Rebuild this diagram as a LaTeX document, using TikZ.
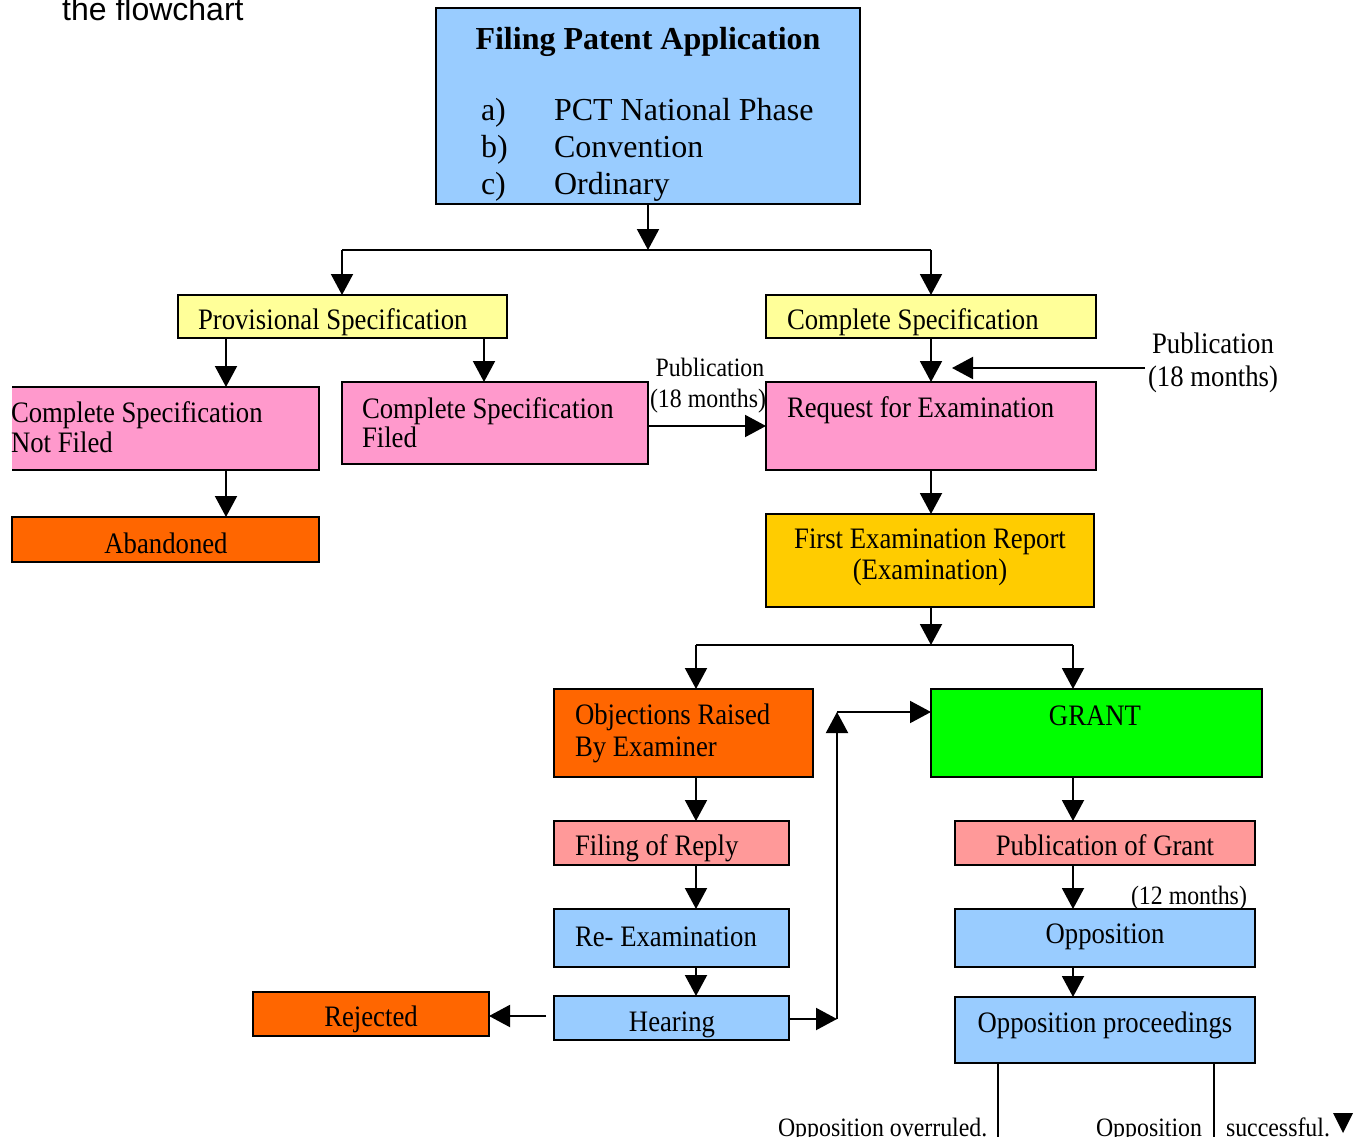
\documentclass[tikz,border=0pt]{standalone}
\usepackage{fontspec}
\setmainfont{Liberation Serif}
\newfontfamily\nserif[FakeStretch=0.9]{Liberation Serif}
\newfontfamily\arialish{Liberation Sans}
\usetikzlibrary{arrows.meta,fit}
\definecolor{cblue}{HTML}{99CCFF}
\definecolor{cyellow}{HTML}{FFFF99}
\definecolor{cpink}{HTML}{FF99CC}
\definecolor{corange}{HTML}{FF6600}
\definecolor{cgold}{HTML}{FFCC00}
\definecolor{cgreen}{HTML}{00FF00}
\definecolor{csalmon}{HTML}{FF9999}
\begin{document}
\begin{tikzpicture}[x=1pt,y=-1pt,
 boxst/.style={draw=black, line width=2pt, inner sep=0pt, outer sep=0pt, rectangle},
 ln/.style={line width=2pt},
 arr/.style={line width=2pt, -{Triangle[length=21pt,width=22pt]}},
 txt/.style={inner sep=0pt, outer sep=0pt, font=\nserif\fontsize{29.7}{33}\selectfont},
 small/.style={inner sep=0pt, outer sep=0pt, font=\nserif\fontsize{26.5}{30}\selectfont},
 list/.style={inner sep=0pt, outer sep=0pt, font=\fontsize{32}{36}\selectfont},
]
\useasboundingbox (0,0) rectangle (1369,1137);
\fill[white] (0,0) rectangle (1369,1137);

\node[inner sep=0pt, anchor=base west, font=\arialish\fontsize{32}{36}\selectfont] (hdr) at (62,21) {the flowchart};

% title
\node[boxst, fill=cblue, fit={(436,8) (860,204)}] (title) {};
\node[inner sep=0pt, anchor=base, font=\bfseries\fontsize{32}{36}\selectfont] (t0) at (648,50) {Filing Patent Application};
\node[list, anchor=base west] (la) at (481,121) {a)};
\node[list, anchor=base west] (pa) at (554,121) {PCT National Phase};
\node[list, anchor=base west] (lb) at (481,158) {b)};
\node[list, anchor=base west] (pb) at (554,158) {Convention};
\node[list, anchor=base west] (lc) at (481,195) {c)};
\node[list, anchor=base west] (pc) at (554,195) {Ordinary};

% boxes
\node[boxst, fill=cyellow, fit={(178,295) (507,338)}] (prov) {};
\node[txt, anchor=base west] (provt) at (198,329) {Provisional Specification};
\node[boxst, fill=cyellow, fit={(766,295) (1096,338)}] (comp) {};
\node[txt, anchor=base west] (compt) at (787,329) {Complete Specification};

\node[inner sep=0pt, outer sep=0pt, fill=cpink, fit={(12,387) (319,470)}] (nf) {};
\draw[ln] (nf.north west) -- (nf.north east) -- (nf.south east) -- (nf.south west);
\node[txt, anchor=base west] (nft1) at (11,422) {Complete Specification};
\node[txt, anchor=base west] (nft2) at (11,452) {Not Filed};

\node[boxst, fill=cpink, fit={(342,382) (648,464)}] (filed) {};
\node[txt, anchor=base west] (fdt1) at (362,418) {Complete Specification};
\node[txt, anchor=base west] (fdt2) at (362,447) {Filed};

\node[boxst, fill=corange, fit={(12,517) (319,562)}] (aband) {};
\node[txt, anchor=base] (abt) at (166,553) {Abandoned};

\node[boxst, fill=cpink, fit={(766,382) (1096,470)}] (req) {};
\node[txt, anchor=base west] (reqt) at (787,417) {Request for Examination};

\node[boxst, fill=cgold, fit={(766,514) (1094,607)}] (fer) {};
\node[txt, anchor=base] (fert1) at (930,548) {First Examination Report};
\node[txt, anchor=base] (fert2) at (930,579) {(Examination)};

\node[boxst, fill=corange, fit={(554,689) (813,777)}] (obj) {};
\node[txt, anchor=base west] (objt1) at (575,724) {Objections Raised};
\node[txt, anchor=base west] (objt2) at (575,756) {By Examiner};

\node[boxst, fill=cgreen, fit={(931,689) (1262,777)}] (grant) {};
\node[txt, anchor=base] (grt) at (1095,725) {GRANT};

\node[boxst, fill=csalmon, fit={(554,821) (789,865)}] (reply) {};
\node[txt, anchor=base west] (rpt) at (575,855) {Filing of Reply};

\node[boxst, fill=cblue, fit={(554,909) (789,967)}] (reexam) {};
\node[txt, anchor=base west] (ret) at (575,946) {Re- Examination};

\node[boxst, fill=cblue, fit={(554,996) (789,1040)}] (hear) {};
\node[txt, anchor=base] (het) at (672,1031) {Hearing};

\node[boxst, fill=corange, fit={(253,992) (489,1036)}] (rej) {};
\node[txt, anchor=base] (rjt) at (371,1026) {Rejected};

\node[boxst, fill=csalmon, fit={(955,821) (1255,865)}] (pubg) {};
\node[txt, anchor=base] (pgt) at (1105,855) {Publication of Grant};

\node[boxst, fill=cblue, fit={(955,909) (1255,967)}] (opp) {};
\node[txt, anchor=base] (opt) at (1105,943) {Opposition};

\node[boxst, fill=cblue, fit={(955,997) (1255,1063)}] (oppp) {};
\node[txt, anchor=base] (oppt) at (1105,1032) {Opposition proceedings};

% labels
\node[txt, anchor=base] (pr1) at (1213,353) {Publication};
\node[txt, anchor=base] (pr2) at (1213,386) {(18 months)};
\node[small, anchor=base] (pl1) at (710,376) {Publication};
\node[small, anchor=base] (pl2) at (708,407) {(18 months)};
\node[small, anchor=base west] (m12) at (1131,904) {(12 months)};
\node[small, anchor=base west] (ovr) at (778,1136) {Opposition overruled.};
\node[small, anchor=base west] (os1) at (1096,1136) {Opposition};
\node[small, anchor=base west] (os2) at (1226,1136) {successful.};
\fill (1333,1113) -- (1353,1113) -- (1343,1133) -- cycle;

% connectors
\coordinate (j1) at (648,250);
\coordinate (jL) at (342,250);
\coordinate (jR) at (931,250);
\draw[arr] (title.south) -- (j1);
\draw[ln] (jL) -- (jR);
\draw[arr] (jL) -- (jL |- prov.north);
\draw[arr] (jR) -- (jR |- comp.north);
\coordinate (x226) at (226,0);
\coordinate (x484) at (484,0);
\draw[arr] (prov.south -| x226) -- (nf.north -| x226);
\draw[arr] (prov.south -| x484) -- (filed.north -| x484);
\draw[arr] (nf.south -| x226) -- (aband.north -| x226);
\draw[arr] (comp.south) -- (req.north);
\coordinate (pubR) at (1145,368);
\coordinate (pubT) at (952,368);
\draw[arr] (pubR) -- (pubT);
\coordinate (y426) at (0,426);
\draw[arr] (filed.east |- y426) -- (req.west |- y426);
\draw[arr] (req.south) -- (req.south |- fer.north);
\coordinate (j2) at (931,645);
\coordinate (jo) at (696,645);
\coordinate (jg) at (1073,645);
\draw[arr] (fer.south -| j2) -- (j2);
\draw[ln] (jo) -- (jg);
\draw[arr] (jo) -- (jo |- obj.north);
\draw[arr] (jg) -- (jg |- grant.north);
\draw[arr] (obj.south -| jo) -- (reply.north -| jo);
\draw[arr] (reply.south -| jo) -- (reexam.north -| jo);
\draw[arr] (reexam.south -| jo) -- (hear.north -| jo);
\coordinate (rj) at (546,1016);
\draw[arr] (rj) -- (rej.east |- rj);
\coordinate (hr) at (837,1019);
\coordinate (hu) at (837,712);
\draw[arr] (hear.east |- hr) -- (hr);
\draw[arr] (hr) -- (hu);
\draw[arr] (hu) -- (grant.west |- hu);
\draw[arr] (grant.south -| jg) -- (pubg.north -| jg);
\draw[arr] (pubg.south -| jg) -- (opp.north -| jg);
\draw[arr] (opp.south -| jg) -- (oppp.north -| jg);
\coordinate (b1) at (998,1140);
\coordinate (b2) at (1214,1140);
\draw[ln] (oppp.south -| b1) -- (b1);
\draw[ln] (oppp.south -| b2) -- (b2);
\end{tikzpicture}
\end{document}
